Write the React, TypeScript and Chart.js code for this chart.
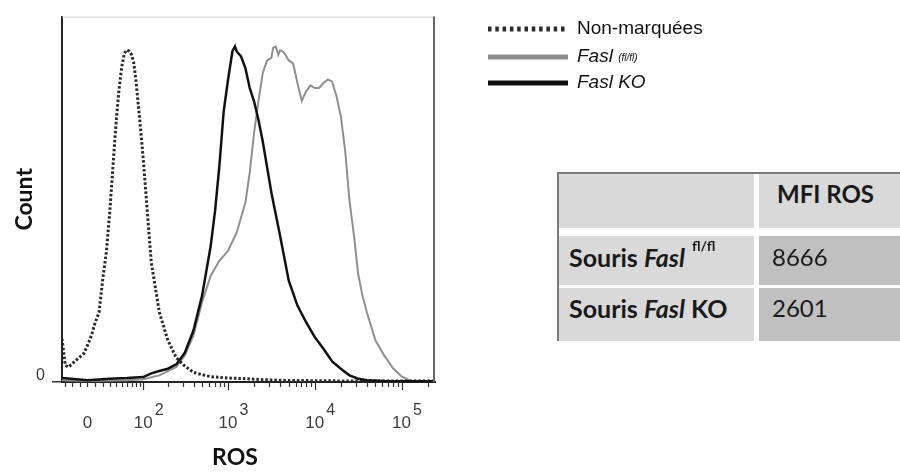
import React, { useEffect, useRef } from "react";
import { Chart, Scale, registerables } from "chart.js";

Chart.register(...registerables);

// ---------- data (ROS fluorescence values, count as % of max) ----------
const rosNonMarquees = [-35, -30, -25, -15, -5, 0, 5, 10, 15, 20, 25, 30, 35, 40, 45, 50, 55, 60, 65, 70, 75, 80, 90, 100, 126, 158, 200, 251, 316, 398, 501, 631, 794, 1000, 1585, 2512, 3981, 10000, 25119, 100000, 243000];
const countNonMarquees = [13, 5, 4.5, 6.5, 8.5, 11, 14, 18, 21, 31, 39, 51, 65, 78, 88, 95, 99, 100, 99.5, 98.5, 96, 91, 79, 67, 36, 21, 12.5, 7.3, 4.8, 2.9, 2.2, 1.6, 1.4, 1.2, 1.0, 0.7, 0.5, 0.4, 0.3, 0.3, 0.3];

const rosFaslFl = [-35, 0, 60, 100, 158, 251, 316, 398, 501, 631, 794, 1000, 1259, 1585, 1778, 1995, 2239, 2512, 2818, 3162, 3311, 3548, 3802, 3981, 4169, 4467, 5012, 5623, 6310, 7079, 7943, 8913, 10000, 11220, 12589, 14125, 15849, 17783, 19953, 22387, 25119, 28184, 31623, 35481, 39811, 50119, 63096, 79433, 100000, 125893, 158489, 243000];
const countFaslFl = [0.5, 0.3, 0.5, 0.8, 2, 4.5, 8, 14, 24, 32, 36.5, 39.5, 45, 54, 63, 75, 84.5, 93, 96.8, 97.6, 100.6, 101, 98.5, 99.8, 99.7, 99, 96.8, 95.9, 90, 84.6, 87.5, 89.3, 88.5, 88.5, 90, 91.1, 90.4, 86, 80, 69.7, 54.5, 44.5, 32.5, 26, 21, 12.5, 8, 4.2, 1.7, 0.4, 0.3, 0.2];

const rosFaslKO = [-35, 0, 30, 60, 100, 126, 158, 200, 251, 316, 398, 501, 631, 708, 794, 891, 1000, 1122, 1202, 1259, 1413, 1585, 1778, 1995, 2239, 2512, 3162, 3981, 5012, 6310, 7943, 10000, 12589, 15849, 19953, 25119, 31623, 39811, 63096, 243000];
const countFaslKO = [1.2, 0.5, 1.0, 1.2, 1.5, 2.6, 3.3, 4.0, 5.3, 8.8, 15.5, 26, 41, 51.5, 65, 81.5, 91, 99.5, 101, 99.5, 98, 94.5, 88.5, 84.5, 79, 72.5, 57, 44, 30.5, 23, 18, 13.5, 10, 6.2, 4, 2, 1.0, 0.5, 0.3, 0.2];

const seriesLabels = ["Non-marquées", "Fasl (fl/fl)", "Fasl KO"];

const xMin = -35;
const xMax = 243000;
const yMax = 110;

const majorTickValues = [100, 1000, 10000, 100000];
const minorTickValues = [-30, -20, -10, 0, 10, 20, 30, 40, 50, 60, 70, 80, 90, 200, 300, 400, 500, 600, 700, 800, 900, 2000, 3000, 4000, 5000, 6000, 7000, 8000, 9000, 20000, 30000, 40000, 50000, 60000, 70000, 80000, 90000, 200000];
const tickLabelValues = [0, 100, 1000, 10000, 100000];
const tickLabelBases = ["0", "10", "10", "10", "10"];
const tickLabelExps = ["", "2", "3", "4", "5"];

const tableHeader = "MFI ROS";
const tableValues = ["8666", "2601"];

// ---------- biexponential-like (arcsinh) scale ----------
const BIEX_W = 24;
const fwd = (v: number) => Math.asinh(v / (2 * BIEX_W)) / Math.LN10;
const inv = (t: number) => 2 * BIEX_W * Math.sinh(t * Math.LN10);

class BiexScale extends (Scale as any) {
  static id = "biex";
  static defaults = {};
  _s = 0;
  _r = 1;
  determineDataLimits() {
    const { min, max } = (this as any).getMinMax(true);
    const o = (this as any).options;
    (this as any).min = o.min ?? min;
    (this as any).max = o.max ?? max;
  }
  buildTicks() {
    return majorTickValues.map((v) => ({ value: v }));
  }
  configure() {
    super.configure();
    this._s = fwd((this as any).min);
    this._r = fwd((this as any).max) - this._s;
  }
  getLabelForValue(v: number) {
    return String(v);
  }
  getPixelForValue(v: number) {
    return (this as any).getPixelForDecimal((fwd(v) - this._s) / this._r);
  }
  getValueForPixel(p: number) {
    return inv(this._s + (this as any).getDecimalForPixel(p) * this._r);
  }
}
Chart.register(BiexScale as any);

const SANS = '"Liberation Sans", Arial, sans-serif';
const TITLE = 'Lato, "Open Sans", sans-serif';

const decorPlugin = {
  id: "decor",
  afterDraw(chart: any) {
    const { ctx, chartArea: a, scales } = chart;
    const xs = scales.x;
    ctx.save();
    // frame: top (light) and right (dark)
    ctx.strokeStyle = "#cfcfcf";
    ctx.lineWidth = 1;
    ctx.beginPath();
    ctx.moveTo(a.left, a.top + 0.5);
    ctx.lineTo(a.right, a.top + 0.5);
    ctx.stroke();
    ctx.strokeStyle = "#666";
    ctx.lineWidth = 2;
    ctx.beginPath();
    ctx.moveTo(a.right - 1, a.top);
    ctx.lineTo(a.right - 1, a.bottom);
    ctx.stroke();

    // x ticks
    ctx.strokeStyle = "#333";
    ctx.lineWidth = 1.2;
    const tick = (v: number, len: number) => {
      const px = Math.round(xs.getPixelForValue(v)) + 0.5;
      ctx.beginPath();
      ctx.moveTo(px, a.bottom);
      ctx.lineTo(px, a.bottom + len);
      ctx.stroke();
    };
    minorTickValues.forEach((v) => tick(v, 5));
    majorTickValues.forEach((v) => tick(v, 8));

    // x tick labels
    ctx.fillStyle = "#3c3c3c";
    ctx.textBaseline = "middle";
    tickLabelValues.forEach((v, i) => {
      const px = xs.getPixelForValue(v);
      ctx.font = "17px " + SANS;
      ctx.textAlign = "center";
      ctx.fillText(tickLabelBases[i], px, a.bottom + 41);
      if (tickLabelExps[i]) {
        const w = ctx.measureText(tickLabelBases[i]).width;
        ctx.font = "16px " + SANS;
        ctx.textAlign = "left";
        ctx.fillText(tickLabelExps[i], px + w / 2 + 2, a.bottom + 29);
      }
    });

    // x title
    ctx.fillStyle = "#111";
    ctx.font = "bold 23px " + TITLE;
    ctx.textAlign = "center";
    ctx.fillText("ROS", a.left + 173, a.bottom + 76);

    // legend
    const ds = chart.data.datasets;
    const rowsY = [29, 57, 83];
    const x0 = 488;
    const x1 = 568;
    const tx = 577;
    ds.forEach((d: any, i: number) => {
      ctx.save();
      ctx.strokeStyle = d.borderColor;
      ctx.lineWidth = 5;
      ctx.setLineDash(d.borderDash && d.borderDash.length ? [3.5, 3.8] : []);
      ctx.beginPath();
      ctx.moveTo(x0, rowsY[i]);
      ctx.lineTo(x1, rowsY[i]);
      ctx.stroke();
      ctx.restore();
      ctx.fillStyle = "#111";
      ctx.textAlign = "left";
      ctx.textBaseline = "middle";
      const label: string = d.label;
      if (i === 0) {
        ctx.font = "19px " + SANS;
        ctx.fillText(label, tx, rowsY[i]);
      } else if (i === 1) {
        const parts = label.split(" ");
        ctx.font = "italic 19px " + SANS;
        ctx.fillText(parts[0], tx, rowsY[i]);
        const w = ctx.measureText(parts[0] + " ").width;
        ctx.font = "italic 10px " + SANS;
        ctx.fillText(parts[1], tx + w, rowsY[i] + 1);
      } else {
        ctx.font = "italic 19px " + SANS;
        ctx.fillText(label, tx, rowsY[i]);
      }
    });
    ctx.restore();
  },
};

const cellBase: React.CSSProperties = {
  position: "absolute",
  display: "flex",
  alignItems: "center",
  boxSizing: "border-box",
  fontFamily: TITLE,
  fontSize: 24,
  color: "#1a1a1a",
  whiteSpace: "nowrap",
};

function MfiTable() {
  return (
    <div>
      <div style={{ position: "absolute", left: 557, top: 172, width: 343, height: 2, background: "#7a7a7a" }} />
      <div style={{ position: "absolute", left: 557, top: 172, width: 2, height: 169, background: "#7a7a7a" }} />
      <div style={{ ...cellBase, left: 559, top: 174, width: 195, height: 54, background: "#d9d9d9" }} />
      <div style={{ ...cellBase, left: 759, top: 174, width: 141, height: 54, background: "#d9d9d9", paddingLeft: 18, fontWeight: 700, paddingBottom: 16 }}>
        {tableHeader}
      </div>
      <div style={{ ...cellBase, left: 559, top: 236, width: 195, height: 49, background: "#d9d9d9", paddingLeft: 10, fontWeight: 700, fontSize: 25, paddingBottom: 8 }}>
        <span>Souris&nbsp;</span>
        <span style={{ fontStyle: "italic" }}>Fasl</span>
        <span style={{ fontSize: 14, position: "relative", top: -11, marginLeft: 7 }}>fl/fl</span>
      </div>
      <div style={{ ...cellBase, left: 759, top: 236, width: 141, height: 49, background: "#c0c0c0", paddingLeft: 13, paddingBottom: 8 }}>
        {tableValues[0]}
      </div>
      <div style={{ ...cellBase, left: 559, top: 288, width: 195, height: 53, background: "#d9d9d9", paddingLeft: 10, fontWeight: 700, fontSize: 25, paddingBottom: 14 }}>
        <span>Souris&nbsp;</span>
        <span style={{ fontStyle: "italic" }}>Fasl</span>
        <span>&nbsp;KO</span>
      </div>
      <div style={{ ...cellBase, left: 759, top: 288, width: 141, height: 53, background: "#c0c0c0", paddingLeft: 13, paddingBottom: 14 }}>
        {tableValues[1]}
      </div>
    </div>
  );
}

export default function App() {
  const ref = useRef<HTMLCanvasElement>(null);
  useEffect(() => {
    if (!ref.current) return;
    const toPts = (xs: number[], ys: number[]) => xs.map((x, i) => ({ x, y: ys[i] }));
    const chart = new Chart(ref.current, {
      type: "line",
      data: {
        datasets: [
          {
            label: seriesLabels[0],
            data: toPts(rosNonMarquees, countNonMarquees),
            borderColor: "#2a2a2a",
            borderWidth: 3,
            borderDash: [2.5, 2],
            pointRadius: 0,
            order: 1,
          },
          {
            label: seriesLabels[1],
            data: toPts(rosFaslFl, countFaslFl),
            borderColor: "#8f8f8f",
            borderWidth: 2,
            pointRadius: 0,
            order: 2,
          },
          {
            label: seriesLabels[2],
            data: toPts(rosFaslKO, countFaslKO),
            borderColor: "#111111",
            borderWidth: 2.5,
            pointRadius: 0,
            order: 0,
          },
        ],
      },
      options: {
        animation: false,
        responsive: false,
        layout: { padding: { top: 9, right: 465, left: 0, bottom: 0 } },
        plugins: { legend: { display: false }, tooltip: { enabled: false } },
        scales: {
          x: {
            type: "biex" as any,
            min: xMin,
            max: xMax,
            grid: { display: false },
            ticks: { display: false },
            border: { display: true, color: "#222", width: 2 },
            afterFit: (s: any) => {
              s.height = 92;
            },
          },
          y: {
            type: "linear",
            min: 0,
            max: yMax,
            afterBuildTicks: (s: any) => {
              s.ticks = [{ value: 0 }];
            },
            afterFit: (s: any) => {
              s.width = 62;
            },
            grid: { display: true, drawOnChartArea: false, tickLength: 10, color: "#333", lineWidth: 1.5 },
            border: { display: true, color: "#222", width: 2 },
            ticks: { font: { size: 16, family: SANS }, color: "#3c3c3c", padding: 7, labelOffset: -6 },
            title: {
              display: true,
              text: "Count",
              color: "#111",
              font: { size: 23, weight: "bold", family: TITLE },
              padding: { top: 11, bottom: 0 },
            },
          },
        },
      },
      plugins: [decorPlugin],
    } as any);
    return () => chart.destroy();
  }, []);

  return (
    <div style={{ position: "fixed", left: 0, top: 0, width: 900, height: 474, background: "#fff", overflow: "hidden" }}>
      <canvas ref={ref} width={900} height={474} style={{ position: "absolute", left: 0, top: 0, display: "block" }} />
      <MfiTable />
    </div>
  );
}
